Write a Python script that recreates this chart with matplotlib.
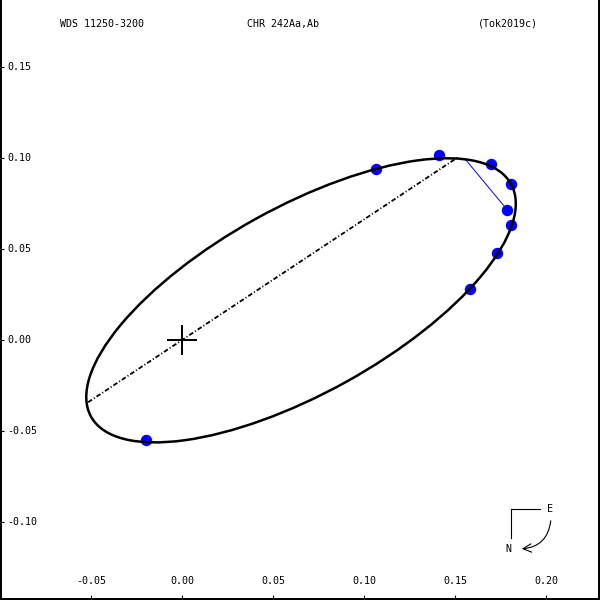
import matplotlib
matplotlib.use("Agg")
import matplotlib.pyplot as plt
from matplotlib.patches import Ellipse, FancyArrowPatch
from matplotlib.lines import Line2D

# observed positions (arcsec)
obs_x = [-0.0198, 0.1066, 0.1411, 0.1696, 0.1806, 0.1788, 0.1806, 0.1731, 0.1582]
obs_y = [-0.0549, 0.0938, 0.1018, 0.0967, 0.0857, 0.0714, 0.0632, 0.0478, 0.0280]

# apparent orbit ellipse
orb_center = (0.0654, 0.0218)
orb_a = 0.1319
orb_b = 0.0512
orb_angle = 29.0

# line of nodes
node_x = [-0.0516, 0.1522]
node_y = [-0.0342, 0.1008]

# O-C residual
oc_x = [0.1788, 0.1555]
oc_y = [0.0714, 0.0995]

xticks = [-0.05, 0.00, 0.05, 0.10, 0.15, 0.20]
yticks = [-0.10, -0.05, 0.00, 0.05, 0.10, 0.15]

title_left = "WDS 11250-3200"
title_mid = "CHR 242Aa,Ab"
title_right = "(Tok2019c)"

font = dict(family="DejaVu Sans Mono", fontsize=7.2, color="black")

fig = plt.figure(figsize=(6, 6), dpi=100)
ax = fig.add_axes([0, 1.5 / 600, 598.5 / 600, 598.5 / 600])
ax.set_xlim(-0.1, -0.1 + 598.5 / 1820)
ax.set_ylim(340 / 1820 - 598.5 / 1820, 340 / 1820)

for s in ["left", "right", "bottom"]:
    ax.spines[s].set_linewidth(2.16)
ax.spines["top"].set_visible(False)

ax.set_xticks(xticks)
ax.set_yticks(yticks)
ax.set_xticklabels([])
ax.set_yticklabels([])
ax.tick_params(direction="in", length=3, width=0.8, color="black")

for v in xticks:
    ax.text(v, 17 / 598.5, f"{v:.2f}", transform=ax.get_xaxis_transform(),
            ha="center", va="center", **font)
for v in yticks:
    ax.text(7 / 598.5, v, f"{v:.2f}", transform=ax.get_yaxis_transform(),
            ha="left", va="center", **font)

ax.plot(obs_x, obs_y, "o", color="#0000ff", ms=7.2, mec="#0000ff", zorder=2)
ax.add_patch(Ellipse(orb_center, 2 * orb_a, 2 * orb_b, angle=orb_angle,
                     fill=False, ec="black", lw=1.8, zorder=3))
ax.plot(node_x, node_y, color="black", lw=1.3, dashes=[2.6, 1.2, 0.6, 1.2], zorder=3)
ax.plot(oc_x, oc_y, color="#0000ff", lw=0.7, zorder=2)
ax.plot([0], [0], marker="+", ms=21.6, mew=1.44, color="black", zorder=4)

# header
fig.text(60 / 600, 1 - 24 / 600, title_left, ha="left", va="center", **font)
fig.text(247 / 600, 1 - 24 / 600, title_mid, ha="left", va="center", **font)
fig.text(538 / 600, 1 - 24 / 600, title_right, ha="right", va="center", **font)


# compass (pixel positions from top-left)
def P(x, y):
    return (x / 600, 1 - y / 600)


for (x1, y1), (x2, y2) in [((510.7, 509.3), (540, 509.3)), ((510.7, 509.3), (510.7, 538.3))]:
    fig.add_artist(Line2D([P(x1, y1)[0], P(x2, y2)[0]], [P(x1, y1)[1], P(x2, y2)[1]],
                          transform=fig.transFigure, color="black", lw=0.8))
fig.text(*P(550, 509), "E", ha="center", va="center", **font)
fig.text(*P(508.5, 548.5), "N", ha="center", va="center", **font)
fig.add_artist(FancyArrowPatch(P(551, 518), P(519, 549), transform=fig.transFigure,
                               connectionstyle="arc3,rad=-0.45",
                               arrowstyle="->,head_length=0.6,head_width=0.3",
                               mutation_scale=10, color="black", lw=0.8))

fig.savefig("out.png", dpi=100)
